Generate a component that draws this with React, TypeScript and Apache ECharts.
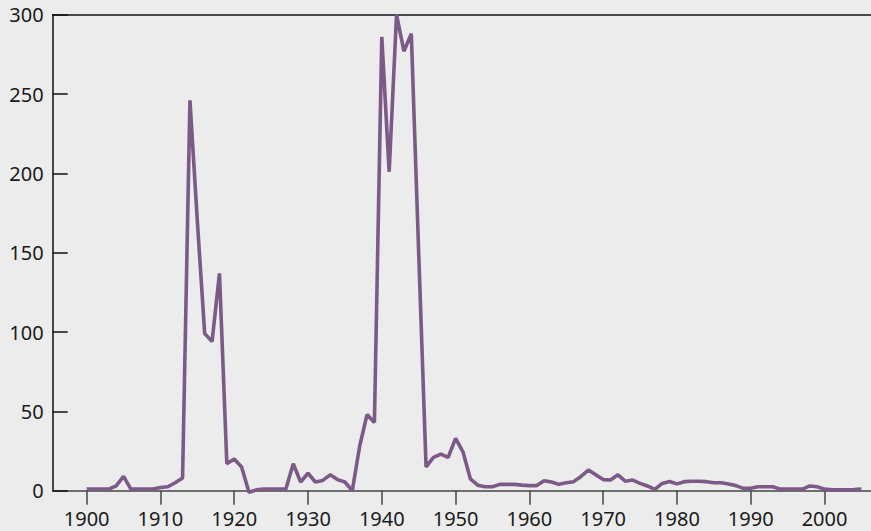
import React, { useEffect, useRef } from "react";
import * as echarts from "echarts";

const years: number[] = [];
for (let y = 1900; y <= 2005; y++) years.push(y);

const values: number[] = [
  // 1900-1909
  1, 1, 1, 1, 3, 9, 1, 1, 1, 1,
  // 1910-1919
  2, 2.5, 5, 8, 246, 170, 99, 94, 137, 17,
  // 1920-1929
  20, 15, -1, 0.5, 1, 1, 1, 1, 17, 5.5,
  // 1930-1939
  11, 5.5, 6.5, 10, 7, 5.5, 0, 28, 48, 43,
  // 1940-1949
  286, 201, 300, 277, 288, 150, 15, 21, 23, 21,
  // 1950-1959
  33, 24.5, 7.5, 3.5, 2.5, 2.5, 4, 4, 4, 3.5,
  // 1960-1969
  3.2, 3.2, 6.3, 5.5, 4, 5, 5.7, 9, 13, 10,
  // 1970-1979
  7, 6.7, 10, 6, 6.7, 4.6, 3, 0.8, 4.6, 5.8,
  // 1980-1989
  4.3, 5.7, 6, 6, 5.7, 5, 5, 4.2, 3.2, 1.5,
  // 1990-1999
  1.5, 2.5, 2.5, 2.5, 1, 1, 1, 1, 3, 2.5,
  // 2000-2005
  1, 0.5, 0.5, 0.5, 0.7, 1,
];

const xTickValues: number[] = [1900, 1910, 1920, 1930, 1940, 1950, 1960, 1970, 1980, 1990, 2000];
const yTickValues: number[] = [0, 50, 100, 150, 200, 250, 300];

export default function App() {
  const ref = useRef<HTMLDivElement>(null);
  useEffect(() => {
    if (!ref.current) return;
    const chart = echarts.init(ref.current, null, { renderer: "svg" });
    const font = "'Noto Sans', 'Open Sans', sans-serif";
    chart.setOption({
      animation: false,
      backgroundColor: "#ececec",
      grid: { left: 52.7, right: 0, top: 14.7, bottom: 40.3, containLabel: false },
      xAxis: [
        {
          type: "value",
          min: 1895.4,
          max: 2006.3,
          position: "bottom",
          axisLine: { show: true, onZero: false, lineStyle: { color: "#444444", width: 1.5 } },
          axisTick: {
            show: true,
            inside: false,
            length: 14,
            customValues: xTickValues,
            lineStyle: { color: "#444444", width: 1.5 },
          },
          axisLabel: {
            show: true,
            customValues: xTickValues,
            color: "#1a1a1a",
            fontSize: 20,
            fontFamily: font,
            margin: 18,
            formatter: (v: number) => String(Math.round(v)),
          },
          splitLine: { show: false },
        },
        {
          type: "value",
          min: 1895.4,
          max: 2006.3,
          position: "top",
          axisLine: { show: true, onZero: false, lineStyle: { color: "#111111", width: 1.5 } },
          axisTick: { show: false },
          axisLabel: { show: false },
          splitLine: { show: false },
        },
      ],
      yAxis: {
        type: "value",
        min: 0,
        max: 300,
        interval: 50,
        axisLine: { show: true, lineStyle: { color: "#111111", width: 1.5 } },
        axisTick: { show: true, inside: true, length: 15, lineStyle: { color: "#111111", width: 1.5 } },
        axisLabel: {
          color: "#1a1a1a",
          fontSize: 20,
          fontFamily: font,
          margin: 9,
          customValues: yTickValues,
        },
        splitLine: { show: false },
      },
      series: [
        {
          type: "line",
          xAxisIndex: 0,
          data: years.map((y, i) => [y, values[i]]),
          showSymbol: false,
          clip: false,
          lineStyle: { color: "#7b5a88", width: 3.6 },
        },
      ],
    });
    return () => chart.dispose();
  }, []);
  return (
    <div
      ref={ref}
      style={{ position: "absolute", left: 0, top: 0, width: 871, height: 531 }}
    />
  );
}
